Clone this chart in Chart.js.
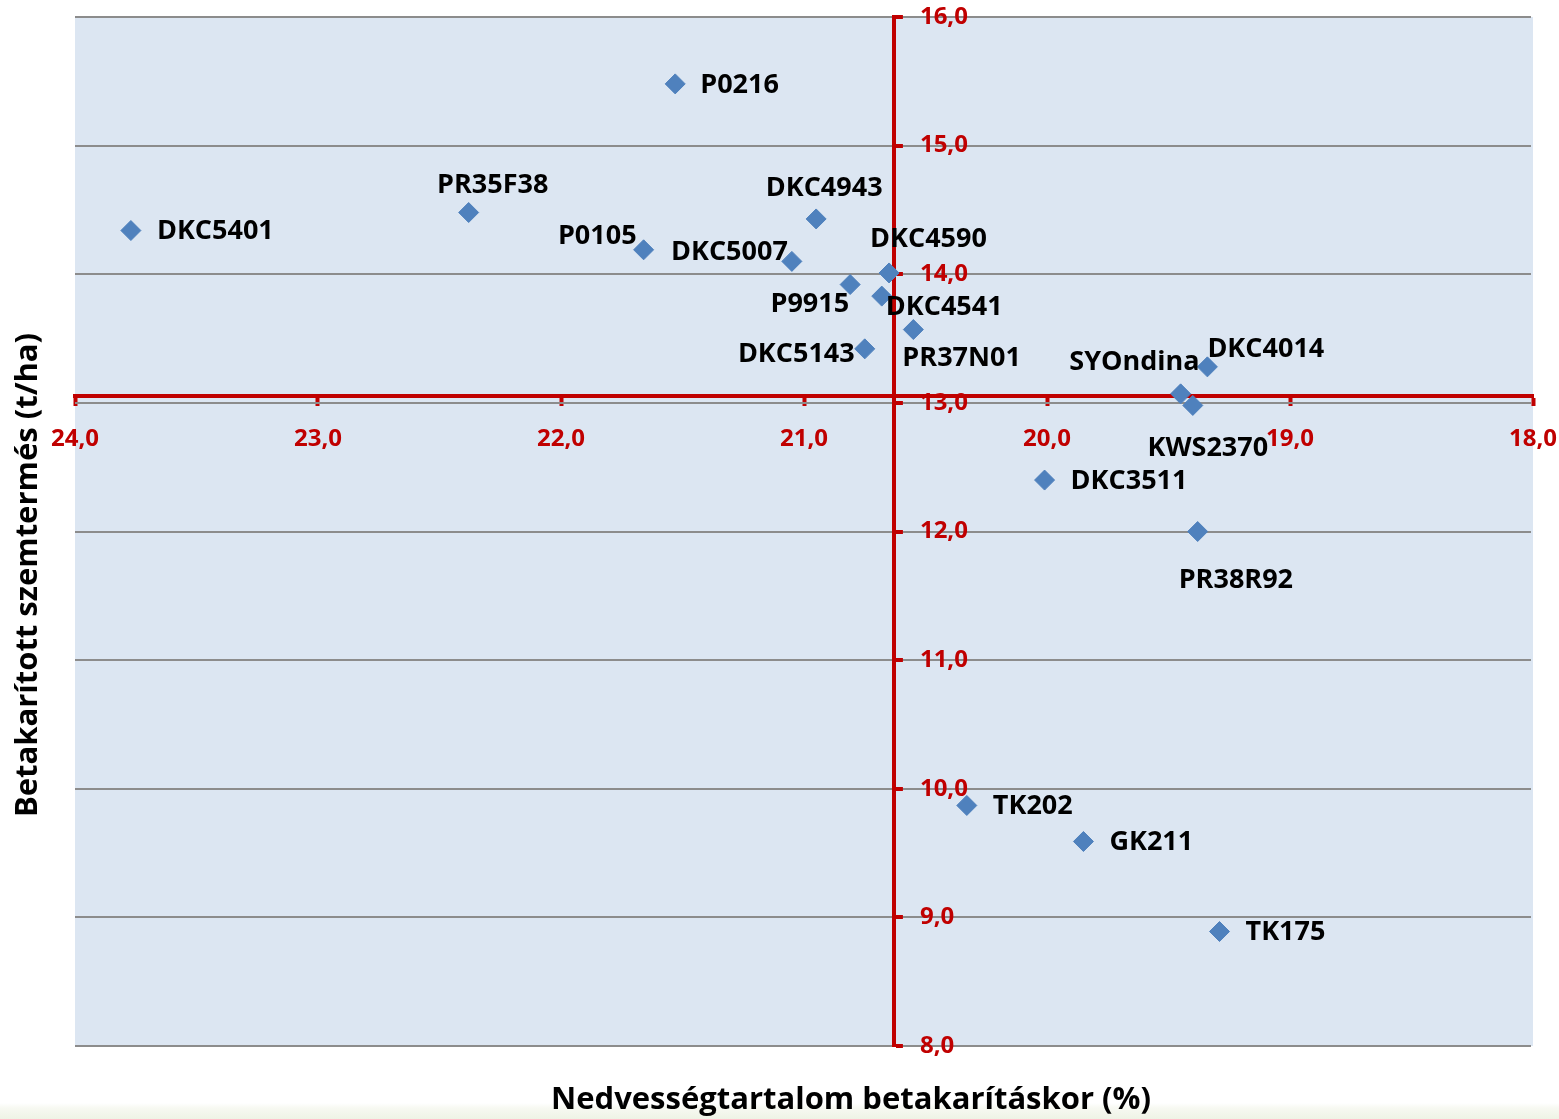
<!DOCTYPE html>
<html>
<head>
<meta charset="utf-8">
<script src="https://cdn.jsdelivr.net/npm/chart.js@4.4.1/dist/chart.umd.min.js"></script>
<style>
html, body { margin: 0; padding: 0; width: 1559px; height: 1119px; overflow: hidden;
  background: linear-gradient(to bottom, #ffffff 0px, #ffffff 1103px, #f7f9f2 1108px, #eef3e5 1119px); }
canvas { display: block; }
</style>
</head>
<body>
<canvas id="c" width="1559" height="1119"></canvas>
<script>
// ---- data ----
const hybrids = ['P0216','DKC5401','PR35F38','DKC4943','P0105','DKC5007','DKC4590','P9915','DKC4541',
  'PR37N01','DKC5143','DKC4014','SYOndina','KWS2370','DKC3511','PR38R92','TK202','GK211','TK175'];
const moisture = [21.53, 23.77, 22.38, 20.95, 21.66, 21.05, 20.65, 20.81, 20.68,
  20.55, 20.75, 19.34, 19.45, 19.40, 20.01, 19.38, 20.33, 19.85, 19.29];
const yieldT = [15.48, 14.34, 14.48, 14.43, 14.19, 14.10, 14.01, 13.92, 13.83,
  13.57, 13.42, 13.28, 13.07, 12.98, 12.40, 12.00, 9.87, 9.59, 8.89];
const xMin = 18, xMax = 24, yMin = 8, yMax = 16;
const crossMoisture = 20.63;   // vertical axis crosses at average moisture
const crossYield = 13.05;      // horizontal axis crosses at average yield
const xTitle = 'Nedvességtartalom betakarításkor (%)';
const yTitle = 'Betakarított szemtermés (t/ha)';

// ---- label placement (style only): [align, dx, dy] ----
const labelPlacement = [
  ['left', 25, 1], ['left', 26, 1], ['center', 24, -27], ['center', 8, -31], ['right', -7, -13],
  ['right', -4, -9], ['left', -19, -34], ['right', -1, 20], ['left', 4, 11], ['left', -11, 29],
  ['right', -10, 5], ['left', 0, -18], ['right', 19, -32], ['center', 15, 43], ['left', 26, 1],
  ['left', -19, 49], ['left', 26, 1], ['left', 26, 1], ['left', 26, 1]
];

const FONT = "'Open Sans','Noto Sans',sans-serif";
const RED = '#c00000';
const fmt = v => Number(v).toFixed(1).replace('.', ',');

const plotBg = {
  id: 'plotBg',
  beforeDraw(chart) {
    const { ctx, chartArea: a } = chart;
    ctx.save();
    ctx.fillStyle = '#dce6f2';
    ctx.fillRect(a.left, a.top, a.right - a.left, a.bottom - a.top);
    ctx.restore();
  }
};

const moveY = {
  id: 'moveY',
  afterLayout(chart) {
    const y = chart.scales.y;
    const px = chart.scales.x.getPixelForValue(crossMoisture);
    y.left = px; y.right = chart.width; y.width = chart.width - px;
  }
};

const pointLabels = {
  id: 'pointLabels',
  afterDatasetsDraw(chart) {
    const ctx = chart.ctx;
    const meta = chart.getDatasetMeta(0);
    ctx.save();
    ctx.font = 'bold 27px ' + FONT;
    ctx.fillStyle = '#000000';
    ctx.textBaseline = 'middle';
    meta.data.forEach((pt, i) => {
      const [al, dx, dy] = labelPlacement[i];
      ctx.textAlign = al;
      ctx.fillText(hybrids[i], pt.x + dx, pt.y + dy);
    });
    ctx.restore();
  }
};

const axisTitles = {
  id: 'axisTitles',
  afterDraw(chart) {
    const ctx = chart.ctx;
    ctx.save();
    ctx.fillStyle = '#000000';
    ctx.font = 'bold 31px ' + FONT;
    ctx.textAlign = 'center';
    ctx.textBaseline = 'middle';
    ctx.fillText(xTitle, 851, 1100);
    ctx.translate(28, 575);
    ctx.rotate(-Math.PI / 2);
    ctx.fillText(yTitle, 0, 0);
    ctx.restore();
  }
};

function zeroPad(s) { s.paddingLeft = 0; s.paddingRight = 0; s.paddingTop = 0; s.paddingBottom = 0; }

new Chart(document.getElementById('c'), {
  type: 'scatter',
  data: {
    datasets: [{
      data: moisture.map((x, i) => ({ x: x, y: yieldT[i] })),
      pointStyle: 'rectRot',
      pointRadius: 10,
      pointHoverRadius: 10,
      backgroundColor: '#4f81bd',
      borderColor: '#4f81bd',
      borderWidth: 1
    }]
  },
  options: {
    responsive: false,
    animation: false,
    devicePixelRatio: 1,
    events: [],
    layout: { padding: { left: 75, top: 17, right: 26, bottom: 73 } },
    plugins: { legend: { display: false }, tooltip: { enabled: false } },
    scales: {
      x: {
        type: 'linear', reverse: true, min: xMin, max: xMax,
        position: { y: crossYield },
        afterFit(s) { zeroPad(s); },
        grid: { display: true, drawOnChartArea: false, drawTicks: true, tickLength: 8, tickWidth: 4, tickColor: RED },
        border: { display: true, color: RED, width: 4 },
        ticks: { stepSize: 1, autoSkip: false, maxRotation: 0, padding: 20, color: RED,
          font: { family: FONT, size: 24, weight: 'bold' }, callback: v => fmt(v) }
      },
      y: {
        type: 'linear', min: yMin, max: yMax, position: 'right',
        afterFit(s) { s.width = 0; zeroPad(s); },
        grid: { color: '#8c8c8c', lineWidth: 2, drawTicks: true, tickLength: 9, tickWidth: 4, tickColor: RED },
        border: { display: true, color: RED, width: 4 },
        ticks: { stepSize: 1, padding: 17, color: RED,
          font: { family: FONT, size: 24, weight: 'bold' }, callback: v => fmt(v) }
      }
    }
  },
  plugins: [plotBg, moveY, pointLabels, axisTitles]
});
</script>
</body>
</html>
